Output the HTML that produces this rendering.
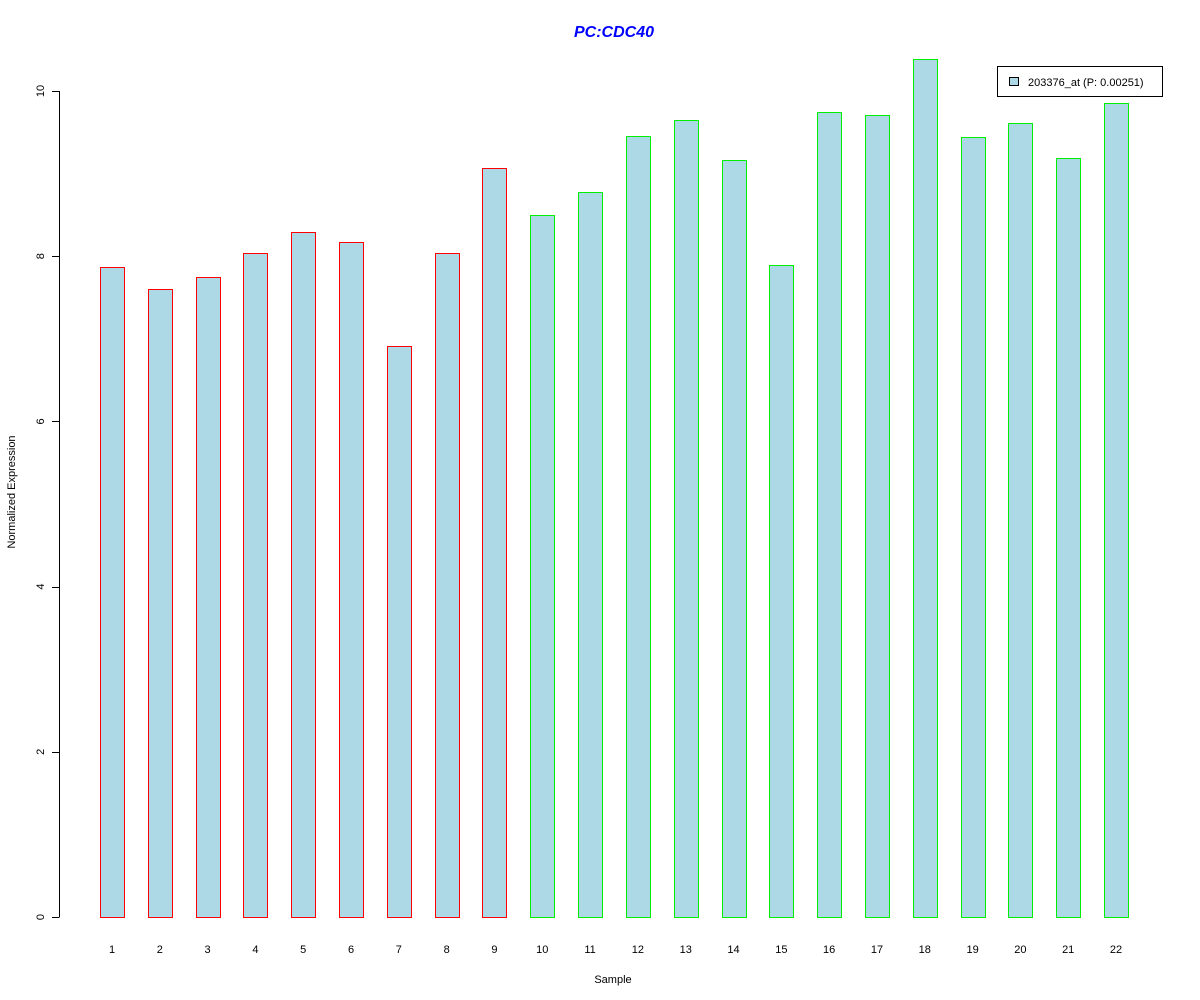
<!DOCTYPE html>
<html><head><meta charset="utf-8"><style>
html,body{margin:0;padding:0;background:#fff;}
svg{display:block;font-family:"Liberation Sans",Arial,sans-serif;}
</style></head><body>
<svg id="chart" width="1200" height="1000" viewBox="0 0 1200 1000">
<rect width="1200" height="1000" fill="#fff"/>
<text x="614" y="37" text-anchor="middle" font-size="16" font-weight="bold" font-style="italic" fill="#0000ff">PC:CDC40</text>
<text x="613" y="983" text-anchor="middle" font-size="11">Sample</text>
<text transform="translate(15,492) rotate(-90)" text-anchor="middle" font-size="11">Normalized Expression</text>
<g id="yaxis" shape-rendering="crispEdges"></g>
<g id="bars" shape-rendering="crispEdges"></g>
<g id="xlabels"></g>
<g shape-rendering="crispEdges">
<rect x="997.5" y="66.5" width="165" height="30" fill="#fff" stroke="#000"/>
<rect x="1009.5" y="77.5" width="9" height="8" fill="#add8e6" stroke="#000"/>
<text x="1028" y="86" font-size="11">203376_at (P: 0.00251)</text>
</g>
</svg>
<script>
const categories = ["1","2","3","4","5","6","7","8","9","10","11","12","13","14","15","16","17","18","19","20","21","22"];
const values = [7.87,7.60,7.75,8.04,8.29,8.17,6.91,8.04,9.07,8.50,8.78,9.46,9.65,9.16,7.89,9.75,9.71,10.39,9.44,9.61,9.19,9.85];
const groups = ["A","A","A","A","A","A","A","A","A","B","B","B","B","B","B","B","B","B","B","B","B","B"];
const yTicks = [0,2,4,6,8,10];
const NS = "http://www.w3.org/2000/svg";
function y(v){return 917 - v*82.6;}
function x(i){return 100 + i*47.81;}
const barW = 24;
const colors = {A:"#ff0000",B:"#00ee00"};
const ya = document.getElementById("yaxis");
const l = document.createElementNS(NS,"line");


l.setAttribute("x1",59.5);l.setAttribute("x2",59.5);
l.setAttribute("y1",y(0));l.setAttribute("y2",y(10));
l.setAttribute("stroke","#000");ya.appendChild(l);
yTicks.forEach(t=>{
  const tk=document.createElementNS(NS,"line");
  
  
  tk.setAttribute("x1",52);tk.setAttribute("x2",59.5);
  tk.setAttribute("y1",Math.round(y(t))+0.5);tk.setAttribute("y2",Math.round(y(t))+0.5);
  tk.setAttribute("stroke","#000");ya.appendChild(tk);
  const tx=document.createElementNS(NS,"text");
  
  
  tx.setAttribute("transform","translate(44,"+y(t)+") rotate(-90)");
  tx.setAttribute("text-anchor","middle");tx.setAttribute("font-size","11");
  tx.textContent=t;ya.appendChild(tx);
});
const bg=document.getElementById("bars"), xg=document.getElementById("xlabels");
values.forEach((v,i)=>{
  const r=document.createElementNS(NS,"rect");
  
  
  const top=Math.round(y(v));
  r.setAttribute("x",Math.round(x(i))+0.5);r.setAttribute("y",top+0.5);
  r.setAttribute("width",barW);r.setAttribute("height",917-top);
  r.setAttribute("fill","#add8e6");r.setAttribute("stroke",colors[groups[i]]);
  r.setAttribute("stroke-width","1");
  bg.appendChild(r);
  const t=document.createElementNS(NS,"text");
  
  
  t.setAttribute("x",x(i)+barW/2);t.setAttribute("y",953);
  t.setAttribute("text-anchor","middle");t.setAttribute("font-size","11");
  t.textContent=categories[i];xg.appendChild(t);
});
</script>
</body></html>
